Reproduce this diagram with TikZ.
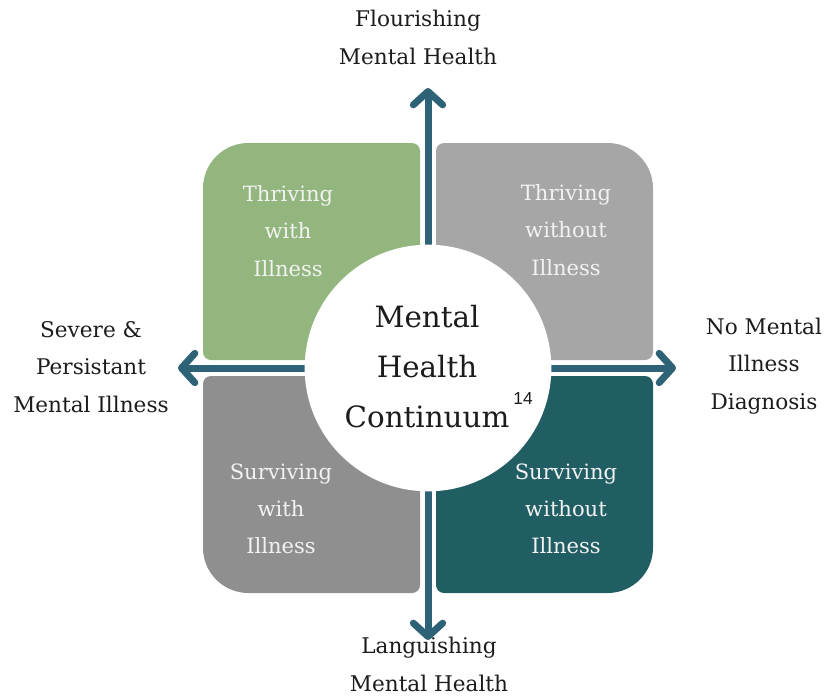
\documentclass[tikz,border=0pt]{standalone}
\usepackage{fontspec}
\setmainfont{DejaVu Serif}
\newfontfamily\refnumfont{Liberation Sans}
\usetikzlibrary{calc,arrows.meta}

\definecolor{thrivegreen}{HTML}{93B67E}
\definecolor{thrivegray}{HTML}{A6A6A6}
\definecolor{survivegray}{HTML}{8F8F8F}
\definecolor{surviveteal}{HTML}{215E63}
\definecolor{axisblue}{HTML}{2E6377}
\definecolor{labelink}{HTML}{1C1C1C}

\tikzset{
  axisline/.style={draw=axisblue,line width=5.25pt,
    {Straight Barb[length=10pt,width=22pt,line width=5.25pt,round]}-{Straight Barb[length=10pt,width=22pt,line width=5.25pt,round]}},
  quadtext/.style={align=center,text=white!95!black,inner sep=0pt,
    font=\fontsize{15.8}{27.9}\selectfont},
  endlabel/.style={align=center,text=labelink,inner sep=0pt,
    font=\fontsize{16.2}{27.9}\selectfont}
}

\begin{document}
\begin{tikzpicture}[x=0.75pt,y=-0.75pt]
\useasboundingbox (0,0) rectangle (838,696);
\coordinate (o) at (428,368); % everything hangs off the centre of the circle

% The two axes
\coordinate (flourish) at ($ (o) + (0,-280) $);
\coordinate (languish) at ($ (o) + (0,272) $);
\coordinate (severe) at ($ (o) + (-250,0) $);
\coordinate (nodiag) at ($ (o) + (248,0) $);
\draw[axisline] (languish) to (flourish);
\draw[axisline] (severe) to (nodiag);

% Four quadrants, big rounding on the outer corner only
\foreach \sx/\sy/\col in {-1/-1/thrivegreen, 1/-1/thrivegray, -1/1/survivegray, 1/1/surviveteal}{
  \fill[\col] ($ (o) + (\sx*8,\sy*8) $) [rounded corners=6pt]
    -- ($ (o) + (\sx*225,\sy*8) $) [rounded corners=34pt]
    -- ($ (o) + (\sx*225,\sy*225) $) [rounded corners=6pt]
    -- ($ (o) + (\sx*8,\sy*225) $) -- cycle;
}

\node[quadtext] (tw) at ($ (o) + (-140,-137) $) {Thriving\\with\\Illness};
\node[quadtext] (two) at ($ (o) + (138,-138) $) {Thriving\\without\\Illness};
\node[quadtext] (sw) at ($ (o) + (-147,141) $) {Surviving\\with\\Illness};
\node[quadtext] (swo) at ($ (o) + (138,141) $) {Surviving\\without\\Illness};

% Centre disc
\fill[white] (o) circle (92.5pt);
\node[align=center,text=labelink,inner sep=0pt,font=\fontsize{22}{37.5}\selectfont]
  (mhc) at ($ (o) + (-1,-1) $) {Mental\\Health\\Continuum};
\node[text=labelink,inner sep=0pt,font=\refnumfont\fontsize{13}{15}\selectfont]
  (ref) at ($ (o) + (95,31) $) {14};

% Axis ends
\node[endlabel] (top) at ($ (o) + (-10,-330.5) $) {Flourishing\\Mental Health};
\node[endlabel] (bottom) at ($ (o) + (1,296.5) $) {Languishing\\Mental Health};
\node[endlabel] (left) at ($ (o) + (-337,-1) $) {Severe \&\\Persistant\\Mental Illness};
\node[endlabel] (right) at ($ (o) + (336,-2) $) {No Mental\\Illness\\Diagnosis};
\end{tikzpicture}
\end{document}
